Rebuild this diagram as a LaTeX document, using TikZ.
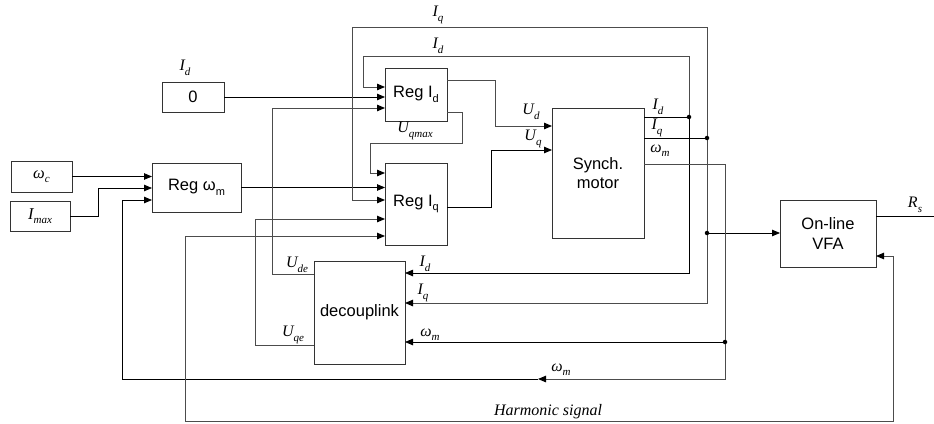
\documentclass[tikz,border=0pt]{standalone}
\usepackage{fontspec}
\setmainfont{Liberation Sans}
\newfontfamily\tms{Liberation Serif}
\usetikzlibrary{arrows.meta}
\newcommand\sbs[1]{\raisebox{-0.28em}{\fontsize{11}{11}\selectfont #1}}
\newcommand\lbl[2]{{\tms\itshape #1\sbs{#2}}}
\begin{document}
\begin{tikzpicture}[x=1pt,y=-1pt,
  box/.style={draw=black!80,line width=0.9pt,inner sep=0pt,outer sep=0pt,anchor=north west,align=center,font=\fontsize{16.5}{19.5}\selectfont},
  ln/.style={draw=black,line width=0.8pt},
  gl/.style={draw=black!70,line width=1pt},
  arr/.style={-{Triangle[length=8pt,width=6.5pt,color=black]}},
  dot/.style={circle,fill=black,inner sep=0pt,minimum size=4.5pt},
  lab/.style={inner sep=0pt,font=\fontsize{16}{19}\selectfont}]
\useasboundingbox (0,0) rectangle (934,423);
% boxes
\node[box,minimum width=61pt,minimum height=31pt] (wc) at (11,161) {\lbl{ω}{c}};
\node[box,minimum width=60pt,minimum height=30pt] (imax) at (10,201) {\lbl{I}{max}};
\node[box,minimum width=89pt,minimum height=49pt] (regw) at (152,163) {Reg ω\sbs{m}};
\node[box,minimum width=62pt,minimum height=30pt] (zero) at (162,82) {0};
\node[box,minimum width=62pt,minimum height=53pt] (regid) at (385,68) {Reg I\sbs{d}};
\node[box,minimum width=62pt,minimum height=82pt] (regiq) at (385,163) {Reg I\sbs{q}};
\node[box,minimum width=92pt,minimum height=130pt] (motor) at (552,108) {Synch.\\motor};
\node[box,minimum width=91pt,minimum height=103pt] (dec) at (314,261) {decouplink};
\node[box,minimum width=96pt,minimum height=67pt] (vfa) at (780,200) {On-line\\VFA};
% junctions
\coordinate (jd) at (689,117);
\coordinate (jq) at (707,138);
\coordinate (jv) at (707,233);
\coordinate (jw) at (725,342);
\coordinate (wmid) at (538,379);
\coordinate (rs) at (934,216);
% inputs of Reg omega
\draw[ln,arr] (wc.east) -- (wc.east -| regw.west);
\draw[ln,arr] (imax.east) -| (98,188) -- (regw.west |- 0,188);
\draw[ln,arr] (regw.east) -- (regw.east -| regiq.west);
\draw[ln,arr] (zero.east) -- (zero.east -| regid.west);
% Id feedback
\draw[ln] (motor.east |- jd) -- (jd);
\draw[gl,arr] (jd) |- (363,56) |- (regid.west |- 0,87);
\draw[ln,arr] (jd) |- (dec.east |- 0,273);
% Iq feedback
\draw[ln] (motor.east |- jq) -- (jq);
\draw[gl,arr] (jq) |- (352,27) |- (regiq.west |- 0,200);
\draw[gl,arr] (jq) |- (dec.east |- 0,303);
\draw[ln,arr] (jv) -- (jv -| vfa.west);
% omega_m
\draw[gl] (motor.east |- 0,164) -| (jw);
\draw[ln,arr] (jw) -- (jw -| dec.east);
\draw[gl,arr] (jw) |- (wmid);
\draw[ln,arr] (wmid) -| (122,200) -- (regw.west |- 0,200);
% regulator outputs
\draw[gl,arr] (regid.east |- 0,80) -| (495,126) -- (motor.west |- 0,126);
\draw[ln,arr] (regiq.east |- 0,207) -| (491,150) -- (motor.west |- 0,150);
\draw[gl,arr] (regid.east |- 0,112) -| (462,143) -| (370,173) -- (regiq.west |- 0,173);
% decoupling outputs
\draw[gl,arr] (dec.west |- 0,274) -| (272,108) -- (regid.west |- 0,108);
\draw[gl,arr] (dec.west |- 0,345) -| (255,219) -- (regiq.west |- 0,219);
% harmonic signal
\draw[gl,{Triangle[length=8pt,width=6.5pt,color=black]}-{Triangle[length=8pt,width=6.5pt,color=black]}] (regiq.west |- 0,236) -| (185,421) -| (893,256) -- (vfa.east |- 0,256);
% Rs
\draw[ln] (vfa.east |- rs) -- (rs);
% dots
\node[dot] at (jd) {};
\node[dot] at (jq) {};
\node[dot] at (jv) {};
\node[dot] at (jw) {};
% labels
\node[lab] (l1) at (185,68) {\lbl{I}{d}};
\node[lab] (l2) at (438,15) {\lbl{I}{q}};
\node[lab] (l3) at (438,46) {\lbl{I}{d}};
\node[lab] (l4) at (531,112) {\lbl{U}{d}};
\node[lab] (l5) at (533,139) {\lbl{U}{q}};
\node[lab] (l6) at (415,131) {\lbl{U}{qmax}};
\node[lab] (l7) at (658,107) {\lbl{I}{d}};
\node[lab] (l8) at (657,128) {\lbl{I}{q}};
\node[lab] (l9) at (660,151) {\lbl{ω}{m}};
\node[lab] (l10) at (425,264) {\lbl{I}{d}};
\node[lab] (l11) at (423,293) {\lbl{I}{q}};
\node[lab] (l12) at (430,335) {\lbl{ω}{m}};
\node[lab] (l13) at (297,265) {\lbl{U}{de}};
\node[lab] (l14) at (293,335) {\lbl{U}{qe}};
\node[lab] (l15) at (561,370) {\lbl{ω}{m}};
\node[lab] (l16) at (548,412) {\tms\itshape Harmonic signal};
\node[lab] (l17) at (915,205) {\lbl{R}{s}};
\end{tikzpicture}
\end{document}
